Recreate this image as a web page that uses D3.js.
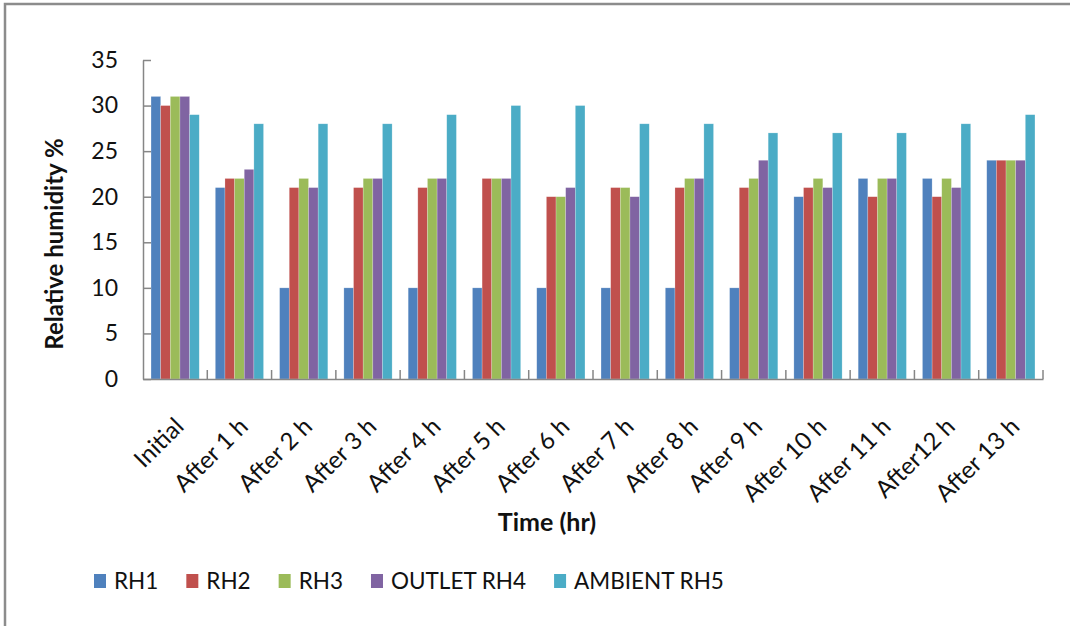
<!DOCTYPE html>
<html>
<head>
<meta charset="utf-8">
<script src="https://cdn.jsdelivr.net/npm/d3@7"></script>
<style>
  html, body { margin: 0; padding: 0; background: #fff; }
  svg { display: block; font-family: Lato, "Open Sans", sans-serif; }
</style>
</head>
<body>
<svg id="chart" width="1070" height="626"></svg>
<script>
const categories = ["Initial", "After 1 h", "After 2 h", "After 3 h", "After 4 h", "After 5 h", "After 6 h",
  "After 7 h", "After 8 h", "After 9 h", "After 10 h", "After 11 h", "After12 h", "After 13 h"];
const seriesNames = ["RH1", "RH2", "RH3", "OUTLET RH4", "AMBIENT RH5"];
const seriesColors = ["#4F81BD", "#C0504D", "#9BBB59", "#8064A2", "#4BACC6"];
const rh1 = [31, 21, 10, 10, 10, 10, 10, 10, 10, 10, 20, 22, 22, 24];
const rh2 = [30, 22, 21, 21, 21, 22, 20, 21, 21, 21, 21, 20, 20, 24];
const rh3 = [31, 22, 22, 22, 22, 22, 20, 21, 22, 22, 22, 22, 22, 24];
const rh4 = [31, 23, 21, 22, 22, 22, 21, 20, 22, 24, 21, 22, 21, 24];
const rh5 = [29, 28, 28, 28, 29, 30, 30, 28, 28, 27, 27, 27, 28, 29];
const yTicks = [0, 5, 10, 15, 20, 25, 30, 35];
const yTitle = "Relative humidity %";
const xTitle = "Time (hr)";

const seriesValues = [rh1, rh2, rh3, rh4, rh5];
const rows = categories.map((c, i) => ({ cat: c, vals: seriesValues.map((s, k) => ({ k, v: s[i] })) }));

const svg = d3.select("#chart");
const plot = { left: 143, right: 1043, top: 60, bottom: 379 };

// outer frame (top & left edges visible)
svg.append("path").attr("d", "M5,626V4H1070").attr("fill", "none").attr("stroke", "#8c8c8c").attr("stroke-width", 2.5);

const x = d3.scaleBand().domain(categories).range([plot.left, plot.right]).paddingInner(0.25).paddingOuter(0.125);
const xs = d3.scaleBand().domain(d3.range(seriesNames.length)).range([0, x.bandwidth()]);
const y = d3.scaleLinear().domain([0, 35]).range([plot.bottom, plot.top]);

// bars
const g = svg.append("g");
g.selectAll("g.grp").data(rows).join("g").attr("class", "grp")
  .attr("transform", d => `translate(${x(d.cat)},0)`)
  .selectAll("rect").data(d => d.vals).join("rect")
  .attr("x", d => xs(d.k)).attr("width", xs.bandwidth())
  .attr("y", d => y(d.v)).attr("height", d => y(0) - y(d.v))
  .attr("fill", d => seriesColors[d.k])
  .attr("stroke", "rgba(255,255,255,0.35)").attr("stroke-width", 0.6);

// y axis
const yAxis = svg.append("g").attr("transform", `translate(${plot.left},0)`)
  .call(d3.axisLeft(y).tickValues(yTicks).tickSize(-8).tickPadding(25).tickSizeOuter(0));
yAxis.select(".domain").attr("stroke", "#868686").attr("stroke-width", 1.5);
yAxis.selectAll(".tick line").attr("stroke", "#868686").attr("stroke-width", 1.5);
yAxis.selectAll(".tick text").attr("font-size", 23).attr("fill", "#111").attr("font-family", "Lato, sans-serif");

// x axis
const xAxis = svg.append("g").attr("transform", `translate(0,${plot.bottom})`)
  .call(d3.axisBottom(x).tickSize(0).tickSizeOuter(0));
xAxis.select(".domain").attr("stroke", "#868686").attr("stroke-width", 1.5);
// tick marks at category boundaries
const bounds = d3.range(categories.length + 1).map(i => plot.left + i * x.step());
svg.append("g").selectAll("line").data(bounds.slice(1)).join("line")
  .attr("x1", d => d).attr("x2", d => d).attr("y1", plot.bottom).attr("y2", plot.bottom - 9)
  .attr("stroke", "#868686").attr("stroke-width", 1.5);
xAxis.selectAll(".tick text")
  .attr("font-size", 24).attr("fill", "#111").attr("font-family", "Lato, sans-serif")
  .attr("text-anchor", "end").attr("dy", null).attr("y", 0)
  .attr("transform", "translate(10,49) rotate(-45)");

// axis titles
svg.append("text").attr("transform", "translate(63,244) rotate(-90)")
  .attr("text-anchor", "middle").attr("font-size", 24).attr("font-weight", "bold").attr("fill", "#111")
  .text(yTitle);
svg.append("text").attr("x", 547).attr("y", 531)
  .attr("text-anchor", "middle").attr("font-size", 25).attr("font-weight", "bold").attr("fill", "#111")
  .text(xTitle);

// legend
const legend = svg.append("g").attr("transform", "translate(94,0)");
let lx = 0;
seriesNames.forEach((name, k) => {
  const it = legend.append("g").attr("transform", `translate(${lx},0)`);
  it.append("rect").attr("x", 0).attr("y", 574).attr("width", 12).attr("height", 14).attr("fill", seriesColors[k]);
  const t = it.append("text").attr("x", 20).attr("y", 589).attr("font-size", 22.5).attr("fill", "#111").text(name);
  lx += 20 + t.node().getComputedTextLength() + 28;
});
</script>
</body>
</html>
